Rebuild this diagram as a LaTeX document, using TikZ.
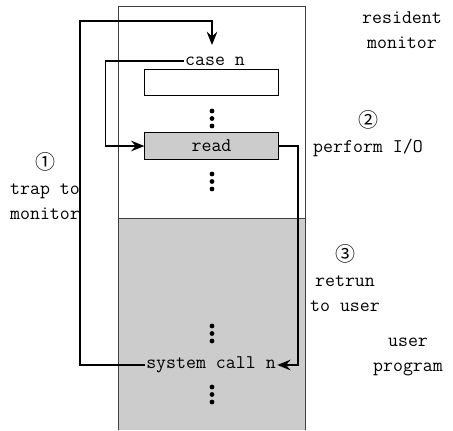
\documentclass[tikz,border=0pt]{standalone}
\usepackage{fontspec}
\newfontfamily\circfont{Noto Sans CJK SC}
\usetikzlibrary{arrows.meta}
\tikzstyle{membox} = [draw=black, line width=0.7pt, rectangle, minimum width=100pt,
    minimum height=20pt, inner sep=0pt]
\tikzstyle{flow} = [draw=black, line width=1.1pt, -{Stealth[length=10pt,width=8pt,inset=3.5pt]}]
\tikzstyle{lbl} = [align=center, inner sep=0pt]
\tikzstyle{dot} = [fill=black]
\definecolor{memgray}{gray}{0.8}
\newcommand{\circnum}[1]{{\circfont\fontsize{15}{15}\selectfont #1}}

\begin{document}
\begin{tikzpicture}[x=0.75pt, y=-0.75pt, font=\ttfamily\fontsize{14.5}{18.75}\selectfont]
    \useasboundingbox (0,0) rectangle (453,430);
    % memory column
    \fill[memgray] (118,218) rectangle (305,430);
    \draw[black!75, line width=0.7pt] (118,430) -- (118,6) -- (305,6) -- (305,430);
    \draw[black!75, line width=0.7pt] (118,218) -- (305,218);
    % monitor part
    \node[inner sep=1pt] (casen) at (215,61) {case n};
    \node[membox, fill=white] (slot) at (211.5,82.5) {};
    \node[membox, fill=memgray] (read) at (211.5,146) {read};
    % user part
    \node[inner sep=1pt] (syscall) at (211,365) {system call n};
    % dots
    \foreach \y in {111,118.5,126, 174,181.5,189, 326,333.5,341, 387,394.5,402}
        \fill[dot] (212,\y) circle (2.4);
    % connectors
    \coordinate (top) at (212,45);
    \draw[flow] (syscall.west) -- (80,365) -- (80,21) -- (212,21) -- (top);
    \draw[flow] (casen.west) -- (105.5,61) -- (105.5,146) -- (read.west);
    \draw[flow] (read.east) -- (298,146) -- (298,365) -- (syscall.east);
    % labels
    \node[lbl] (resmon) at (402,30) {resident\\ monitor};
    \node[lbl] (userprog) at (408,357) {user\\ program};
    \node[lbl] (step1) at (45,186) {\circnum{①}\\ trap to\\ monitor};
    \node[lbl] (step2) at (368,134) {\circnum{②}\\ perform I/O};
    \node[lbl] (step3) at (345,278) {\circnum{③}\\ retrun\\ to user};
\end{tikzpicture}
\end{document}
